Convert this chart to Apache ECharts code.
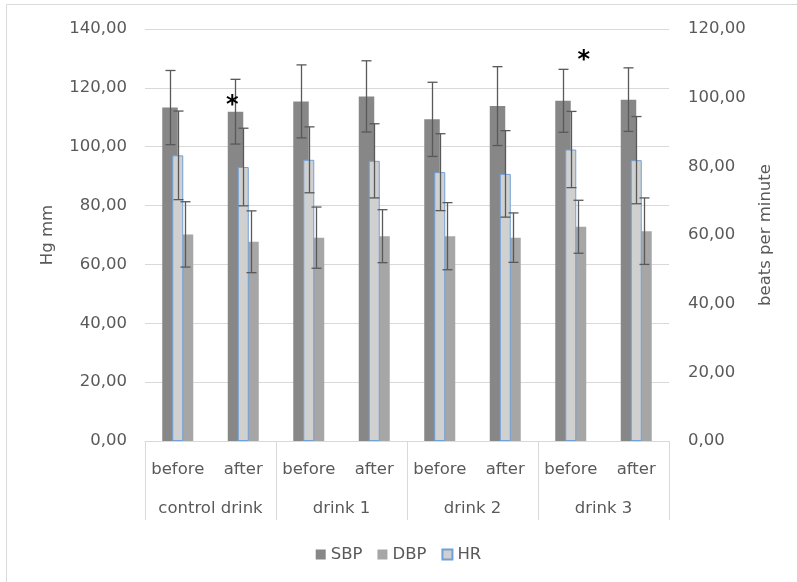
<!DOCTYPE html>
<html>
<head>
<meta charset="utf-8">
<script src="https://cdn.jsdelivr.net/npm/echarts@6/dist/echarts.min.js"></script>
<style>html,body{margin:0;padding:0;background:#fff;}#c{width:797px;height:582px;}</style>
</head>
<body>
<div id="c"></div>
<script>
// ---- data ----
const categories = ['before','after','before','after','before','after','before','after'];
const groups = ['control drink','drink 1','drink 2','drink 3'];
const sbp    = [113.3, 111.9, 115.4, 117.1, 109.3, 113.8, 115.6, 116.0];
const sbpErr = [12.6, 11.0, 12.4, 12.1, 12.6, 13.4, 10.7, 10.8];
const dbp    = [70.2, 67.7, 69.1, 69.6, 69.6, 69.1, 72.8, 71.3];
const dbpErr = [11.1, 10.5, 10.4, 9.0, 11.4, 8.4, 9.0, 11.3];
const hr     = [83.2, 79.8, 81.9, 81.6, 78.3, 77.8, 84.9, 81.8];
const hrErr  = [12.9, 11.3, 9.6, 10.8, 11.2, 12.6, 11.1, 12.7];
const leftTicks = [0, 20, 40, 60, 80, 100, 120, 140];
const rightTicks = [0, 20, 40, 60, 80, 100, 120];
const asteriskCat = [1, 6];
const asteriskVal = [115.2, 130.6];

// ---- styles ----
const FONT = 'DejaVu Sans';
const FS = 16.5;
const TXT = '#595959';
const GRID = '#d9d9d9';
const asteriskDx = [-11, 13];

const fmt = v => v.toFixed(2).replace('.', ',');

function errRender(dx) {
  return function (params, api) {
    const x = api.value(0), v = api.value(1), e = api.value(2);
    const hi = api.coord([x, v + e]), lo = api.coord([x, v - e]);
    const cx = Math.round(hi[0] + dx) + 0.5;
    const half = 5;
    const st = { stroke: '#595959', lineWidth: 1.3 };
    return { type: 'group', children: [
      { type: 'line', shape: { x1: cx, y1: hi[1], x2: cx, y2: lo[1] }, style: st },
      { type: 'line', shape: { x1: cx - half, y1: hi[1], x2: cx + half, y2: hi[1] }, style: st },
      { type: 'line', shape: { x1: cx - half, y1: lo[1], x2: cx + half, y2: lo[1] }, style: st }
    ]};
  };
}
const errData = (vals, errs) => vals.map((v, i) => [i, v, errs[i]]);

const chart = echarts.init(document.getElementById('c'), null, { renderer: 'canvas' });
chart.setOption({
  animation: false,
  backgroundColor: '#fff',
  textStyle: { fontFamily: FONT, color: TXT },
  graphic: [{ type: 'rect', shape: { x: 6.5, y: 4.5, width: 820, height: 620 },
    style: { fill: 'none', stroke: GRID, lineWidth: 1 }, silent: true, z: -1 }],
  grid: { left: 145, right: 128, top: 29, bottom: 141, containLabel: false },
  legend: {
    data: ['SBP', 'DBP', 'HR'], top: 541, left: 'center',
    icon: 'rect', itemWidth: 10, itemHeight: 10, itemGap: 15,
    textStyle: { fontFamily: FONT, fontSize: FS, color: TXT }
  },
  xAxis: [
    { type: 'category', data: categories, position: 'bottom',
      axisLine: { show: true, lineStyle: { color: GRID } }, axisTick: { show: false },
      axisLabel: { interval: 0, margin: 20, fontFamily: FONT, fontSize: FS, color: TXT } },
    { type: 'category', data: categories, position: 'bottom', show: false },
    { type: 'category', data: groups, position: 'bottom',
      axisLine: { show: false },
      axisTick: { show: true, length: 79, interval: 0, lineStyle: { color: GRID } },
      axisLabel: { interval: 0, margin: 59, fontFamily: FONT, fontSize: FS, color: TXT } }
  ],
  yAxis: [
    { type: 'value', min: 0, max: 140, interval: 20, position: 'left',
      name: 'Hg mm', nameLocation: 'middle', nameGap: 89, nameRotate: 90,
      nameTextStyle: { fontFamily: FONT, fontSize: FS, color: TXT },
      axisLine: { show: false }, axisTick: { show: false },
      axisLabel: { margin: 18, fontFamily: FONT, fontSize: FS, color: TXT, formatter: fmt },
      splitLine: { show: true, lineStyle: { color: GRID, width: 1 } } },
    { type: 'value', min: 0, max: 120, interval: 20, position: 'right',
      name: 'beats per minute', nameLocation: 'middle', nameGap: 88, nameRotate: 90,
      nameTextStyle: { fontFamily: FONT, fontSize: FS, color: TXT },
      axisLine: { show: false }, axisTick: { show: false },
      axisLabel: { margin: 19, fontFamily: FONT, fontSize: FS, color: TXT, formatter: fmt },
      splitLine: { show: false } }
  ],
  series: [
    { name: 'SBP', type: 'bar', xAxisIndex: 0, yAxisIndex: 0, data: sbp,
      barWidth: 15.5, barGap: '0%', itemStyle: { color: '#878787' }, z: 2 },
    { name: 'DBP', type: 'bar', xAxisIndex: 0, yAxisIndex: 0, data: dbp,
      barWidth: 15.5, barGap: '0%', itemStyle: { color: '#a6a6a6' }, z: 2 },
    { name: 'HR', type: 'bar', xAxisIndex: 1, yAxisIndex: 1, data: hr,
      barWidth: 11, itemStyle: { color: '#d0d0d0', borderColor: '#6fa0d8', borderWidth: 1 }, z: 3 },
    { name: 'SBPerr', type: 'custom', xAxisIndex: 0, yAxisIndex: 0, silent: true, z: 10,
      renderItem: errRender(-8), encode: { x: 0, y: 1 }, data: errData(sbp, sbpErr) },
    { name: 'HRerr', type: 'custom', xAxisIndex: 0, yAxisIndex: 1, silent: true, z: 10,
      renderItem: errRender(0), encode: { x: 0, y: 1 }, data: errData(hr, hrErr) },
    { name: 'DBPerr', type: 'custom', xAxisIndex: 0, yAxisIndex: 0, silent: true, z: 10,
      renderItem: errRender(7.5), encode: { x: 0, y: 1 }, data: errData(dbp, dbpErr) },
    { name: 'stars', type: 'custom', xAxisIndex: 0, yAxisIndex: 0, silent: true, z: 11,
      renderItem: function (params, api) {
        const p = api.coord([api.value(0), api.value(1)]);
        return { type: 'text', x: p[0] + asteriskDx[params.dataIndex], y: p[1] + 4,
          style: { text: '*', fontFamily: FONT, fontSize: 24, fontWeight: 'bold', fill: '#000',
            align: 'center', verticalAlign: 'middle' } };
      },
      encode: { x: 0, y: 1 },
      data: asteriskCat.map((c, i) => [c, asteriskVal[i]]) }
  ]
});
</script>
</body>
</html>
